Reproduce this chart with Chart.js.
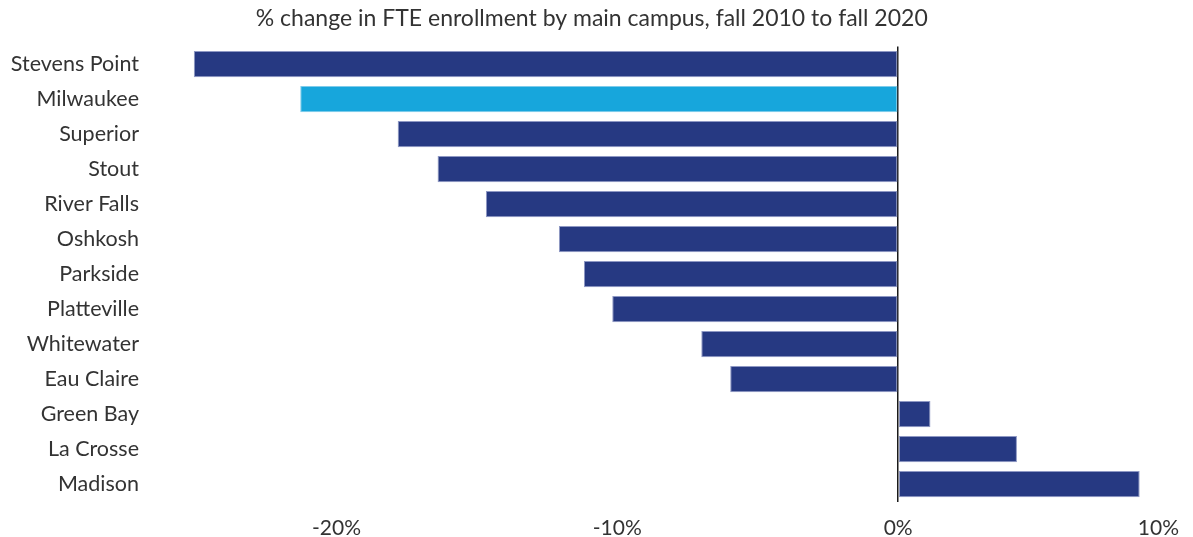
<!DOCTYPE html>
<html>
<head>
<meta charset="utf-8">
<script src="https://cdn.jsdelivr.net/npm/chart.js@4"></script>
<style>
  html, body { margin: 0; padding: 0; background: #ffffff; }
  #wrap { width: 1193px; height: 537px; position: relative; }
</style>
</head>
<body>
<div id="wrap"><canvas id="c"></canvas></div>
<script>
const titleText = '% change in FTE enrollment by main campus, fall 2010 to fall 2020';
const campuses = ['Stevens Point', 'Milwaukee', 'Superior', 'Stout', 'River Falls', 'Oshkosh',
  'Parkside', 'Platteville', 'Whitewater', 'Eau Claire', 'Green Bay', 'La Crosse', 'Madison'];
const pctChange = [-25.08, -21.29, -17.82, -16.40, -14.68, -12.08, -11.19, -10.18, -7.01, -5.98, 1.15, 4.23, 8.60];
const highlighted = ['Milwaukee'];
const xTickValues = [-20, -10, 0, 10];

const NAVY = '#263982';
const CYAN = '#17a6dc';
const FONT = 'Lato';
const TEXT = '#333333';

const X_MIN = -25.5, X_MAX = 10;

new Chart(document.getElementById('c'), {
  type: 'bar',
  data: {
    labels: campuses,
    datasets: [{
      data: pctChange,
      backgroundColor: campuses.map(c => highlighted.includes(c) ? CYAN : NAVY),
      borderColor: campuses.map(c => highlighted.includes(c) ? '#7fcbea' : '#8e98c4'),
      borderWidth: 1,
      borderSkipped: false,
      barPercentage: 0.75,
      categoryPercentage: 1.0
    }]
  },
  options: {
    indexAxis: 'y',
    responsive: true,
    maintainAspectRatio: false,
    animation: false,
    layout: { padding: { top: 0, right: 9.5, bottom: 0, left: 0 } },
    plugins: {
      legend: { display: false },
      tooltip: { enabled: false },
      title: {
        display: true,
        text: titleText,
        color: TEXT,
        font: { family: FONT, size: 23, weight: 'normal' },
        padding: { top: 4.5, bottom: 14.4 }
      }
    },
    scales: {
      x: {
        min: X_MIN,
        max: X_MAX,
        z: 1,
        afterBuildTicks: (scale) => {
          scale.ticks = [{ value: X_MIN }].concat(xTickValues.map(v => ({ value: v })));
        },
        afterFit: (scale) => { scale.height = 35.5; },
        border: { display: false },
        grid: {
          drawTicks: false,
          lineWidth: 1.5,
          color: (ctx) => (ctx.tick && ctx.tick.value === 0) ? '#1a1a1a' : 'rgba(0,0,0,0)'
        },
        ticks: {
          align: 'inner',
          padding: 14,
          color: TEXT,
          font: { family: FONT, size: 21 },
          maxRotation: 0,
          autoSkip: false,
          callback: (v) => (v === X_MIN ? '' : v + '%')
        }
      },
      y: {
        afterFit: (scale) => {
          scale.width = 182;
          scale.paddingTop = 0;
          scale.paddingBottom = 0;
        },
        border: { display: false },
        grid: { display: false, drawTicks: false },
        ticks: {
          padding: 43,
          color: TEXT,
          font: { family: FONT, size: 21.5 },
          autoSkip: false
        }
      }
    }
  }
});
</script>
</body>
</html>
